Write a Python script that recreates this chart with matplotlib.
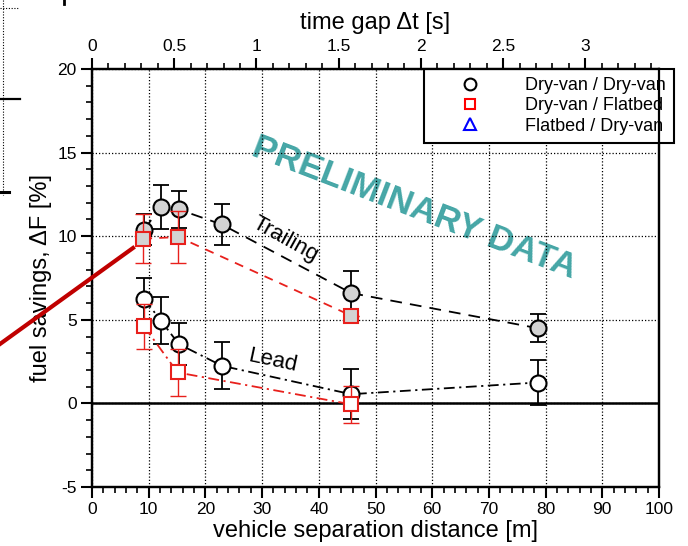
import matplotlib.pyplot as plt
from matplotlib.lines import Line2D
from matplotlib.ticker import MultipleLocator

plt.rcParams['font.family'] = ['Liberation Sans', 'DejaVu Sans']
plt.rcParams['axes.unicode_minus'] = False

# Dry-van / Dry-van  (distance [m], savings [%], +/- error)
dd_x = [9.2, 12.15, 15.3, 22.9, 45.7, 78.6]
dd_trail_y = [10.4, 11.75, 11.6, 10.7, 6.6, 4.5]
dd_trail_err = [0.95, 1.3, 1.1, 1.2, 1.3, 0.85]
dd_lead_y = [6.25, 4.95, 3.55, 2.25, 0.55, 1.25]
dd_lead_err = [1.25, 1.4, 1.25, 1.4, 1.5, 1.35]

# Dry-van / Flatbed
df_trail_x = [9.0, 15.25, 45.7]
df_trail_y = [9.85, 9.95, 5.25]
df_trail_err = [1.45, 1.55, 0.0]
df_lead_x = [9.2, 15.1, 45.6]
df_lead_y = [4.6, 1.85, -0.05]
df_lead_err = [1.35, 1.4, 1.1]

# speed used for the time-gap axis [m/s]
speed = 29.0

W, H = 688, 546
fig = plt.figure(figsize=(W / 100, H / 100), dpi=100)
ax = fig.add_axes([92 / W, 1 - 487 / H, (659 - 92) / W, (487 - 69) / H])

ax.set_xlim(0, 100)
ax.set_ylim(-5, 20)
ax.xaxis.set_major_locator(MultipleLocator(10))
ax.xaxis.set_minor_locator(MultipleLocator(2))
ax.yaxis.set_major_locator(MultipleLocator(5))
ax.yaxis.set_minor_locator(MultipleLocator(1))
ax.grid(True, which='major', color='k', ls=(0, (1, 1.6)), lw=0.9)
ax.axhline(0, color='k', lw=1.8, zorder=2.5)

for s in ax.spines.values():
    s.set_linewidth(1.6)
ax.tick_params(which='major', direction='out', length=8, width=1.5,
               labelsize=12.5, right=False, top=False, pad=3)
ax.tick_params(which='minor', direction='out', length=4.5, width=1.2,
               right=False, top=False)

ax.set_xlabel('vehicle separation distance [m]', fontsize=17, labelpad=2)
ax.set_ylabel('fuel savings, \u0394F [%]', fontsize=17, labelpad=4)

# top axis: time gap
ax2 = ax.twiny()
ax2.set_xlim(0, 100 / speed)
ax2.xaxis.set_major_locator(MultipleLocator(0.5))
ax2.xaxis.set_minor_locator(MultipleLocator(0.1))
ax2.xaxis.set_major_formatter(plt.FuncFormatter(lambda v, p: f'{v:g}'))
ax2.tick_params(which='major', direction='out', length=8, width=1.5,
                labelsize=12.5, pad=3)
ax2.tick_params(which='minor', direction='out', length=4.5, width=1.2)
ax2.set_xlabel('time gap \u0394t [s]', fontsize=17, labelpad=7)
for s in ax2.spines.values():
    s.set_linewidth(1.6)

gray = '#d3d3d3'
red = '#e8201c'

# Dry-van / Dry-van trailing
ax.plot(dd_x, dd_trail_y, color='k', ls=(0, (6.5, 4.5)), lw=1.3, zorder=3)
ax.errorbar(dd_x, dd_trail_y, yerr=dd_trail_err, fmt='none', ecolor='k',
            elinewidth=1.3, capsize=6, capthick=1.3, zorder=3)
ax.plot(dd_x, dd_trail_y, 'o', ms=11.5, mfc=gray, mec='k', mew=1.5, zorder=4)

# Dry-van / Dry-van lead
ax.plot(dd_x, dd_lead_y, color='k', ls=(0, (6, 2.5, 1.2, 2.5)), lw=1.3, zorder=3)
ax.errorbar(dd_x, dd_lead_y, yerr=dd_lead_err, fmt='none', ecolor='k',
            elinewidth=1.3, capsize=6, capthick=1.3, zorder=3)
ax.plot(dd_x, dd_lead_y, 'o', ms=11.5, mfc='white', mec='k', mew=1.5, zorder=4)

# Dry-van / Flatbed trailing
ax.plot(df_trail_x, df_trail_y, color=red, ls=(0, (5, 4)), lw=1.3, zorder=5)
ax.errorbar(df_trail_x, df_trail_y, yerr=df_trail_err, fmt='none', ecolor=red,
            elinewidth=1.0, capsize=6, capthick=1.0, zorder=5)
ax.plot(df_trail_x, df_trail_y, 's', ms=9.5, mfc=gray, mec=red, mew=1.5, zorder=6)

# Dry-van / Flatbed lead
ax.plot(df_lead_x, df_lead_y, color=red, ls=(0, (6, 2.5, 1.2, 2.5)), lw=1.3, zorder=5)
ax.errorbar(df_lead_x, df_lead_y, yerr=df_lead_err, fmt='none', ecolor=red,
            elinewidth=1.0, capsize=6, capthick=1.0, zorder=5)
ax.plot(df_lead_x, df_lead_y, 's', ms=9.5, mfc='white', mec=red, mew=1.5, zorder=6)

# legend entries
ax.plot([], [], 'o', ms=8.5, mfc='none', mec='k', mew=1.5, label='Dry-van / Dry-van')
ax.plot([], [], 's', ms=7, mfc='none', mec='red', mew=1.5, label='Dry-van / Flatbed')
ax.plot([], [], '^', ms=8.5, mfc='none', mec='blue', mew=1.5, label='Flatbed / Dry-van')
leg = ax.legend(loc='upper right', bbox_to_anchor=(1.026, 1.0), fontsize=13,
                frameon=True, fancybox=False, framealpha=1, edgecolor='k',
                borderaxespad=0, borderpad=0.45, handlelength=4.2,
                handletextpad=0.95, labelspacing=0.18)
leg.get_frame().set_linewidth(1.5)
leg.set_zorder(10)

ax.text(34.0, 9.8, 'Trailing', fontsize=16, rotation=-29,
        ha='center', va='center', zorder=7)
ax.text(31.9, 2.55, 'Lead', fontsize=16, rotation=-12,
        ha='center', va='center', zorder=7)
ax.text(56.8, 11.7, 'PRELIMINARY DATA', fontsize=25.5, fontweight='bold',
        color='#45a6a6', rotation=-21, ha='center', va='center', zorder=1.5)

# pieces of the neighbouring slide at the left edge
def px(x, y):
    return x / W, 1 - y / H

for (x0, y0), (x1, y1), kw in [
    ((2.5, 0), (2.5, 195), dict(color='k', lw=0.8, ls=(0, (1, 1.5)))),
    ((0, 8), (18, 8), dict(color='k', lw=0.8, ls=(0, (1, 1.5)))),
    ((0, 99), (20, 99), dict(color='k', lw=1.6)),
    ((0, 192), (9, 192), dict(color='k', lw=2.2)),
    ((64, 0), (64, 4), dict(color='k', lw=2.0)),
    ((0, 344), (133, 248), dict(color='#c00000', lw=3)),
]:
    (a, b), (c, d) = px(x0, y0), px(x1, y1)
    fig.add_artist(Line2D([a, c], [b, d], transform=fig.transFigure, **kw))

fig.savefig('out.png', dpi=100)
